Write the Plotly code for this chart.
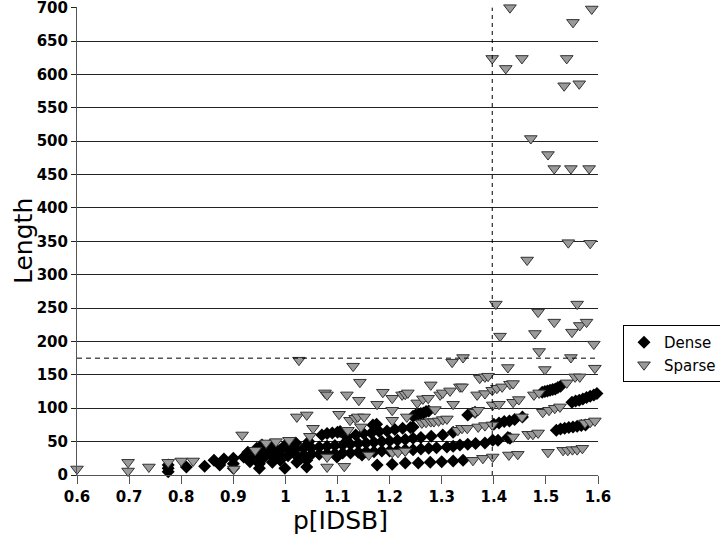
import plotly.graph_objects as go

# Dense: black diamonds (grouped by visible band)
dense_low_x = [0.775, 0.775, 0.775, 0.81, 0.845, 0.863, 0.874, 0.882, 0.90, 0.90, 0.90, 0.92, 0.932, 0.928,
               0.94, 0.945, 0.95, 0.95, 0.95, 0.95, 0.955, 0.965, 0.97, 0.975, 0.975, 0.98, 0.985, 0.99,
               0.999, 1.0, 1.01, 1.02, 1.022, 1.03, 1.041, 1.041, 1.045, 1.099, 1.147]
dense_low_y = [5, 10, 15, 12, 13, 22, 15, 24, 10, 17, 25, 27, 20, 34,
               30, 40, 10, 17, 25, 32, 45, 38, 44, 19, 30, 40, 33, 22,
               10, 45, 38, 48, 19, 25, 12, 22, 50, 27, 30]
dense_a_x = [0.96, 0.975, 0.99, 1.005, 1.02, 1.035, 1.05, 1.065, 1.08, 1.095, 1.11, 1.125, 1.14, 1.155, 1.17,
             1.185, 1.2, 1.215, 1.23, 1.245, 1.26, 1.275, 1.29, 1.31, 1.322, 1.335, 1.35, 1.365, 1.383,
             1.398, 1.408, 1.427, 1.431]
dense_a_y = [27, 28, 29, 29, 30, 30, 31, 31, 32, 32, 33, 33, 34, 35, 35,
             36, 36, 37, 38, 38, 39, 40, 41, 42, 43, 45, 46, 47, 48,
             52, 52, 56, 55]
dense_b_x = [0.96, 0.975, 0.99, 1.005, 1.02, 1.035, 1.05, 1.065, 1.08, 1.095, 1.11, 1.125, 1.14, 1.155, 1.17,
             1.185, 1.2, 1.215, 1.23, 1.245, 1.26, 1.28, 1.302, 1.322, 1.40, 1.41, 1.42, 1.43, 1.44, 1.455]
dense_b_y = [35, 36, 37, 38, 39, 40, 41, 42, 43, 44, 45, 46, 47, 48, 49,
             50, 51, 52, 53, 55, 56, 58, 60, 64, 76, 78, 80, 81, 83, 87]
dense_c_x = [1.07, 1.08, 1.09, 1.10, 1.105, 1.118, 1.135, 1.15, 1.165, 1.168, 1.175, 1.18, 1.195, 1.21, 1.225,
             1.24, 1.245, 1.245, 1.25, 1.255, 1.26, 1.265, 1.27, 1.275, 1.35, 1.364]
dense_c_y = [60, 62, 63, 64, 65, 57, 60, 62, 63, 75, 76, 65, 66, 68, 70,
             71, 72, 88, 90, 91, 92, 93, 95, 96, 90, 94]
dense_row_x = [1.176, 1.205, 1.23, 1.255, 1.278, 1.30, 1.322, 1.341]
dense_row_y = [15, 16, 18, 18, 19, 20, 21, 22]
dense_right_x = [1.493, 1.498, 1.503, 1.508, 1.513, 1.518, 1.523, 1.528,
                 1.55, 1.557, 1.564, 1.571, 1.578, 1.585, 1.592, 1.598,
                 1.52, 1.528, 1.536, 1.544, 1.552, 1.56, 1.568, 1.576]
dense_right_y = [124, 125, 126, 127, 128, 129, 131, 133,
                 109, 111, 112, 114, 116, 118, 120, 122,
                 67, 69, 70, 71, 72, 73, 74, 75]

# Sparse: grey down-triangles
sparse_left_x = [0.6, 0.698, 0.698, 0.738, 0.775, 0.80, 0.823, 0.901, 0.917, 0.942, 0.963, 0.982, 1.007,
                 1.022, 1.041, 1.026, 1.047, 1.053, 1.08, 1.08, 1.113, 1.16]
sparse_left_y = [9, 19, 6, 12, 19, 21, 21, 9, 60, 37, 48, 50, 52,
                 87, 90, 172, 58, 70, 27, 12, 13, 30]
sparse_mid_x = [1.076, 1.08, 1.103, 1.118, 1.12, 1.124, 1.134, 1.139, 1.151, 1.145, 1.141, 1.143, 1.13,
                1.176, 1.187, 1.205, 1.224, 1.23, 1.235, 1.205, 1.233, 1.205, 1.253, 1.264, 1.274, 1.279,
                1.287, 1.297, 1.302, 1.316, 1.322, 1.335, 1.32, 1.341, 1.339, 1.205, 1.216, 1.23,
                1.262, 1.27, 1.279, 1.285, 1.294, 1.302, 1.31, 1.331, 1.339, 1.349]
sparse_mid_y = [123, 120, 91, 120, 67, 82, 85, 87, 87, 72, 112, 139, 163,
                106, 124, 115, 120, 121, 123, 82, 87, 97, 108, 114, 115, 135,
                98, 120, 123, 126, 106, 132, 169, 176, 132, 34, 34, 36,
                78, 79, 80, 80, 81, 83, 84, 67, 70, 70]
sparse_right_x = [1.36, 1.379, 1.398, 1.429, 1.446, 1.504, 1.533, 1.542, 1.551, 1.56, 1.57,
                  1.373, 1.383, 1.389, 1.368, 1.383, 1.397, 1.406, 1.416, 1.431, 1.437, 1.437, 1.448,
                  1.477, 1.487, 1.54, 1.556, 1.565, 1.364, 1.37, 1.398, 1.41, 1.454, 1.37, 1.383, 1.397,
                  1.494, 1.506, 1.517, 1.527, 1.575, 1.585, 1.594, 1.437, 1.466, 1.475, 1.485]
sparse_right_y = [22, 25, 27, 30, 31, 34, 37, 37, 38, 38, 40,
                  145, 147, 148, 120, 122, 127, 130, 132, 136, 137, 109, 113,
                  120, 123, 138, 147, 147, 94, 97, 105, 106, 87, 72, 74, 75,
                  94, 97, 100, 102, 78, 79, 81, 57, 61, 61, 63]
sparse_high_x = [1.427, 1.498, 1.594, 1.487, 1.548, 1.412, 1.479, 1.592, 1.404, 1.485, 1.56, 1.516, 1.55,
                 1.565, 1.578, 1.464, 1.543, 1.585, 1.471, 1.504, 1.516, 1.548, 1.583, 1.535, 1.564,
                 1.397, 1.423, 1.454, 1.54, 1.552, 1.431, 1.588]
sparse_high_y = [161, 158, 160, 185, 176, 208, 212, 196, 256, 244, 256, 229, 214,
                 224, 229, 322, 348, 347, 504, 480, 459, 459, 459, 583, 586,
                 624, 609, 624, 624, 678, 700, 698]

x_ticks = [0.6, 0.7, 0.8, 0.9, 1.0, 1.1, 1.2, 1.3, 1.4, 1.5, 1.6]
x_labels = ["0.6", "0.7", "0.8", "0.9", "1", "1.1", "1.2", "1.3", "1.4", "1.5", "1.6"]
y_ticks = list(range(0, 701, 50))
cutoff_x = 1.397
cutoff_y = 175

dense_x = dense_low_x + dense_a_x + dense_b_x + dense_c_x + dense_row_x + dense_right_x
dense_y = dense_low_y + dense_a_y + dense_b_y + dense_c_y + dense_row_y + dense_right_y
sparse_x = sparse_left_x + sparse_mid_x + sparse_right_x + sparse_high_x
sparse_y = sparse_left_y + sparse_mid_y + sparse_right_y + sparse_high_y

font = "DejaVu Sans"

fig = go.Figure()
fig.add_trace(go.Scatter(
    x=dense_x, y=dense_y, mode="markers", name="Dense", cliponaxis=False,
    marker=dict(symbol="diamond", size=10, color="black", line=dict(width=0))
))
fig.add_trace(go.Scatter(
    x=sparse_x, y=sparse_y, mode="markers", name="Sparse", cliponaxis=False,
    marker=dict(symbol="triangle-down", size=11, color="#9a9a9a", line=dict(color="#333333", width=1))
))

fig.add_shape(type="line", x0=cutoff_x, x1=cutoff_x, y0=0, y1=700, xref="x", yref="y",
              line=dict(color="black", width=1, dash="4px,4px"))
fig.add_shape(type="line", x0=0.6, x1=1.6, y0=cutoff_y, y1=cutoff_y, xref="x", yref="y",
              line=dict(color="black", width=1, dash="5px,4px"))

# axis titles as annotations so they sit where the original has them
fig.add_annotation(text="p[IDSB]", xref="paper", yref="paper", x=0.505, y=0,
                   yshift=-45, yanchor="middle", showarrow=False,
                   font=dict(size=25, family=font, color="black"))
fig.add_annotation(text="Length", xref="paper", yref="paper", x=0, y=0.5,
                   xshift=-54, xanchor="center", yanchor="middle", textangle=-90,
                   showarrow=False, font=dict(size=25, family=font, color="black"))

fig.update_layout(
    width=720, height=540,
    margin=dict(l=77, r=122, t=7, b=65, autoexpand=False),
    plot_bgcolor="white", paper_bgcolor="white",
    font=dict(family=font, color="black"),
    legend=dict(x=1.048, y=0.3205, xanchor="left", yanchor="top",
                bordercolor="black", borderwidth=1, font=dict(size=15, family=font),
                tracegroupgap=0, itemwidth=30),
    xaxis=dict(
        range=[0.6, 1.6], tickvals=x_ticks, ticktext=x_labels,
        ticks="outside", ticklen=8, tickcolor="#555555", tickwidth=1,
        showline=True, linecolor="#555555", linewidth=1,
        showgrid=False, zeroline=False, automargin=False,
        tickfont=dict(size=15, family=font, weight="bold"),
    ),
    yaxis=dict(
        range=[0, 701], tickvals=y_ticks,
        ticks="outside", ticklen=5, tickcolor="#222222", tickwidth=1,
        showline=True, linecolor="#555555", linewidth=1,
        showgrid=True, gridcolor="#222222", gridwidth=1,
        zeroline=False, automargin=False, ticklabeloverflow="allow",
        tickfont=dict(size=15, family=font, weight="bold"),
    ),
)

# drop the browser's default 8px body margin so the figure fills the window
fig.write_html("out.html", config={"displayModeBar": False},
               post_script="document.body.style.margin = '0';")
